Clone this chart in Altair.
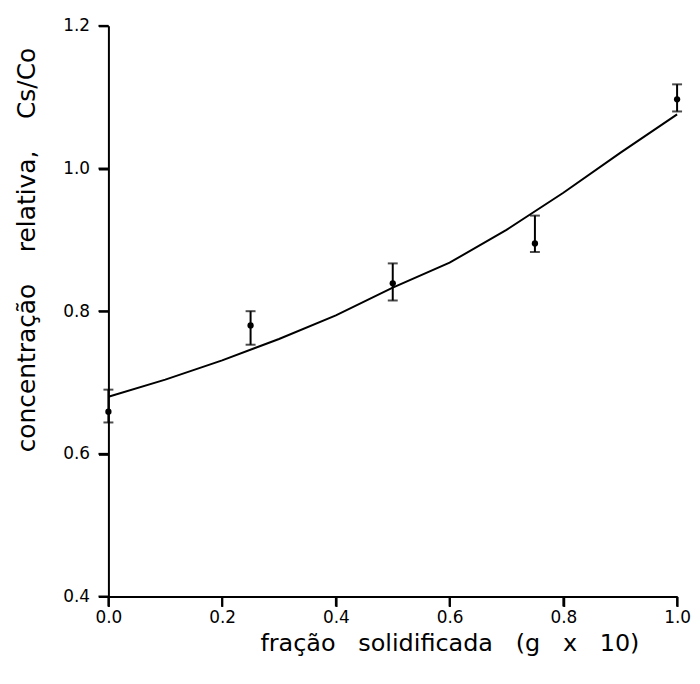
import altair as alt
import pandas as pd

# measured points (fraction solidified x10, relative concentration)
pt_x = [0.0, 0.25, 0.5, 0.75, 1.0]
pt_mean = [0.659, 0.780, 0.839, 0.895, 1.097]
pt_lo = [0.644, 0.753, 0.815, 0.883, 1.080]
pt_hi = [0.690, 0.800, 0.867, 0.934, 1.118]

# fitted curve
curve_x = [0.0, 0.1, 0.2, 0.3, 0.4, 0.5, 0.6, 0.7, 0.8, 0.9, 1.0]
curve_y = [0.680, 0.704, 0.731, 0.761, 0.794, 0.833, 0.868, 0.914, 0.966, 1.022, 1.076]

x_ticks = [0.0, 0.2, 0.4, 0.6, 0.8, 1.0]
y_ticks = [0.4, 0.6, 0.8, 1.0, 1.2]

pts = pd.DataFrame({"x": pt_x, "m": pt_mean, "lo": pt_lo, "hi": pt_hi})
crv = pd.DataFrame({"x": curve_x, "y": curve_y})
xt = pd.DataFrame({"v": x_ticks})
yt = pd.DataFrame({"v": y_ticks})

FONT = "DejaVu Sans"
SPX = "\u00a0\u00a0\u00a0"
SPY = "\u00a0\u00a0\u00a0\u00a0"
XTITLE = f"fração{SPX}solidificada{SPX}(g{SPX}x{SPX}10)"
YTITLE = f"concentração{SPY}relativa,{SPY}Cs/Co"

W, H = 572, 574
TICK = 10

xscale = alt.Scale(domain=[0, 1], nice=False, zero=False)
yscale = alt.Scale(domain=[0.4, 1.2], nice=False, zero=False)


def xaxis():
    return alt.Axis(
        title=XTITLE, values=x_ticks, format=".1f", labelFlush=False,
        ticks=True, tickSize=TICK, tickWidth=2, tickColor="black", tickOpacity=1,
        labelPadding=3,
        titleX=343, titleY=47, titleAlign="center", titleBaseline="middle",
    )


def yaxis():
    return alt.Axis(
        title=YTITLE, values=y_ticks, format=".1f", labelFlush=False,
        ticks=True, tickSize=TICK, tickWidth=2, tickColor="black", tickOpacity=1,
        labelPadding=9, titleFontSize=25,
        titleX=-82, titleY=225, titleAlign="center", titleBaseline="middle", titleAngle=270,
    )


line = alt.Chart(crv).mark_line(color="black", strokeWidth=2).encode(
    x=alt.X("x:Q", scale=xscale, axis=xaxis()),
    y=alt.Y("y:Q", scale=yscale, axis=yaxis()),
)

bars = alt.Chart(pts).mark_rule(color="black", strokeWidth=2).encode(
    x=alt.X("x:Q", scale=xscale, axis=xaxis()),
    y=alt.Y("lo:Q", scale=yscale, axis=yaxis()),
    y2="hi:Q",
)
cap_hi = alt.Chart(pts).mark_tick(color="black", orient="horizontal", size=10, thickness=2).encode(
    x=alt.X("x:Q", scale=xscale, axis=xaxis()),
    y=alt.Y("hi:Q", scale=yscale, axis=yaxis()),
)
cap_lo = alt.Chart(pts).mark_tick(color="black", orient="horizontal", size=10, thickness=2).encode(
    x=alt.X("x:Q", scale=xscale, axis=xaxis()),
    y=alt.Y("lo:Q", scale=yscale, axis=yaxis()),
)
dots = alt.Chart(pts).mark_point(color="black", filled=True, opacity=1, size=40).encode(
    x=alt.X("x:Q", scale=xscale, axis=xaxis()),
    y=alt.Y("m:Q", scale=yscale, axis=yaxis()),
)

# axis tick marks drawn as rules at the tick values
xtick_rules = alt.Chart(xt).mark_rule(color="black", strokeWidth=2).encode(
    x=alt.X("v:Q", scale=xscale, axis=xaxis()),
    y=alt.value(H),
    y2=alt.value(H + TICK),
)
ytick_rules = alt.Chart(yt).mark_rule(color="black", strokeWidth=2).encode(
    y=alt.Y("v:Q", scale=yscale, axis=yaxis()),
    x=alt.value(0),
    x2=alt.value(-TICK),
)

chart = alt.layer(line, bars, cap_hi, cap_lo, dots, xtick_rules, ytick_rules).properties(
    width=W, height=H,
    autosize=alt.AutoSizeParams(type="none"),
    padding={"left": 101, "top": 16, "right": 15, "bottom": 80},
).configure(background="white").configure_view(
    stroke=None, strokeWidth=0
).configure_axis(
    grid=False, ticks=True, domain=True,
    domainColor="black", domainWidth=2, tickColor="black", tickWidth=2,
    labelFont=FONT, labelFontSize=17, labelColor="black",
    titleFont=FONT, titleFontSize=24, titleFontWeight="normal", titleColor="black",
)

chart.save("out.html", embed_options={"renderer": "svg", "actions": False})
